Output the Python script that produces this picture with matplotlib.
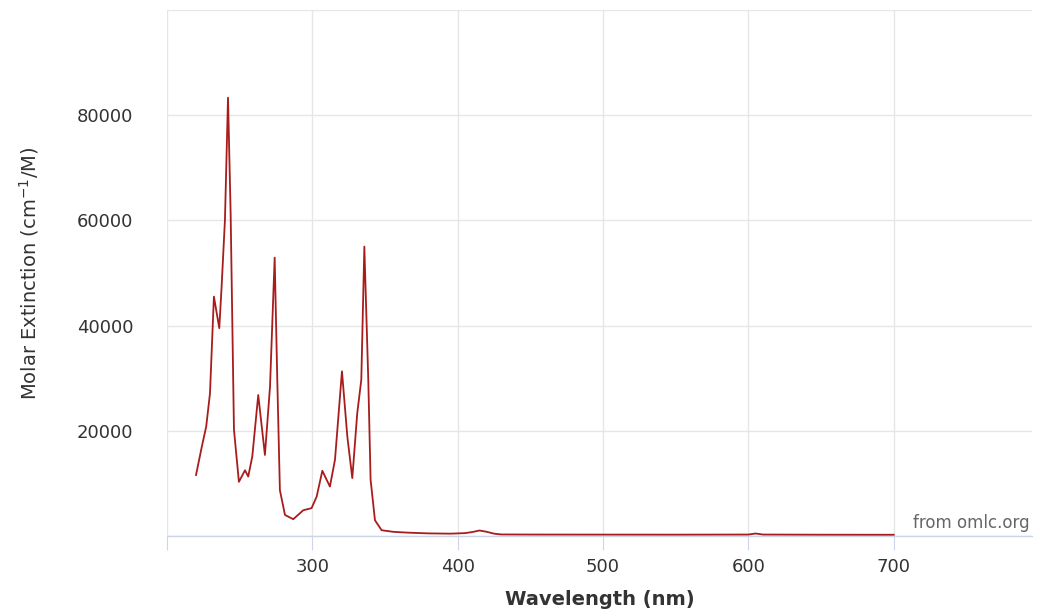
import matplotlib
matplotlib.use("Agg")
from matplotlib import pyplot as plt

# spectrum (nm, cm-1/M)
wavelength = [220, 224, 227, 229.6, 232.3, 236, 237.6, 239.9, 242, 243.8,
              246.1, 249.5, 253.7, 255.9, 258.7, 262.8, 267.4, 270.9, 274.1, 275.9,
              277.7, 281.2, 286.9, 293.8, 299.5, 303, 306.9, 312.1, 315.6, 320.4,
              324.1, 327.5, 330.9, 333.7, 335.8, 338.5, 340.1, 343.1, 347.7, 355.7,
              365, 380, 395, 405, 410, 415, 420, 425, 430, 450,
              500, 550, 600, 605, 610, 650, 700]
extinction = [11600, 17000, 20800, 27100, 45500, 39500, 47400, 60100, 83300, 61500,
              20200, 10300, 12500, 11300, 15100, 26800, 15400, 28400, 52900, 29700,
              8700, 4000, 3200, 4900, 5300, 7500, 12400, 9400, 14500, 31300,
              18900, 11000, 23300, 29700, 55000, 29700, 10700, 3000, 1100, 800,
              650, 500, 450, 550, 750, 1050, 800, 450, 300, 280,
              270, 260, 280, 480, 280, 250, 240]

x_ticks = [200, 300, 400, 500, 600, 700]
x_labels = ["", "300", "400", "500", "600", "700"]
y_grid = [0, 20000, 40000, 60000, 80000, 100000]
y_labels = ["", "20000", "40000", "60000", "80000", ""]

fig = plt.figure(figsize=(10.37, 6.14), dpi=100)
ax = fig.add_axes([0.161, 0.127, 0.834, 0.857])

ax.plot(wavelength, extinction, color="#a81c1c", linewidth=1.3, zorder=3)

ax.set_xlim(200, 795)
ax.set_ylim(0, 100000)
ax.set_xticks(x_ticks)
ax.set_xticklabels(x_labels)
ax.set_yticks(y_grid)
ax.set_yticklabels(y_labels)

ax.grid(True, color="#e6e6e6", linewidth=1)
ax.set_axisbelow(True)
for side in ["top", "right", "left"]:
    ax.spines[side].set_visible(False)
ax.spines["bottom"].set_color("#ccd6eb")
ax.spines["bottom"].set_linewidth(1)

ax.tick_params(axis="x", direction="out", length=10, color="#ccd6eb",
               labelsize=13, labelcolor="#333333", pad=6)
ax.tick_params(axis="y", length=0, labelsize=13, labelcolor="#333333", pad=24)

ax.set_xlabel("Wavelength (nm)", fontsize=14, fontweight="bold", color="#333333", labelpad=10)
ax.set_ylabel("Molar Extinction (cm$^{-1}$/M)", fontsize=14, color="#333333", labelpad=26)

ax.text(0.997, 0.008, "from omlc.org", transform=ax.transAxes, ha="right", va="bottom",
        fontsize=12, color="#666666")

plt.savefig("out.png", dpi=100)
